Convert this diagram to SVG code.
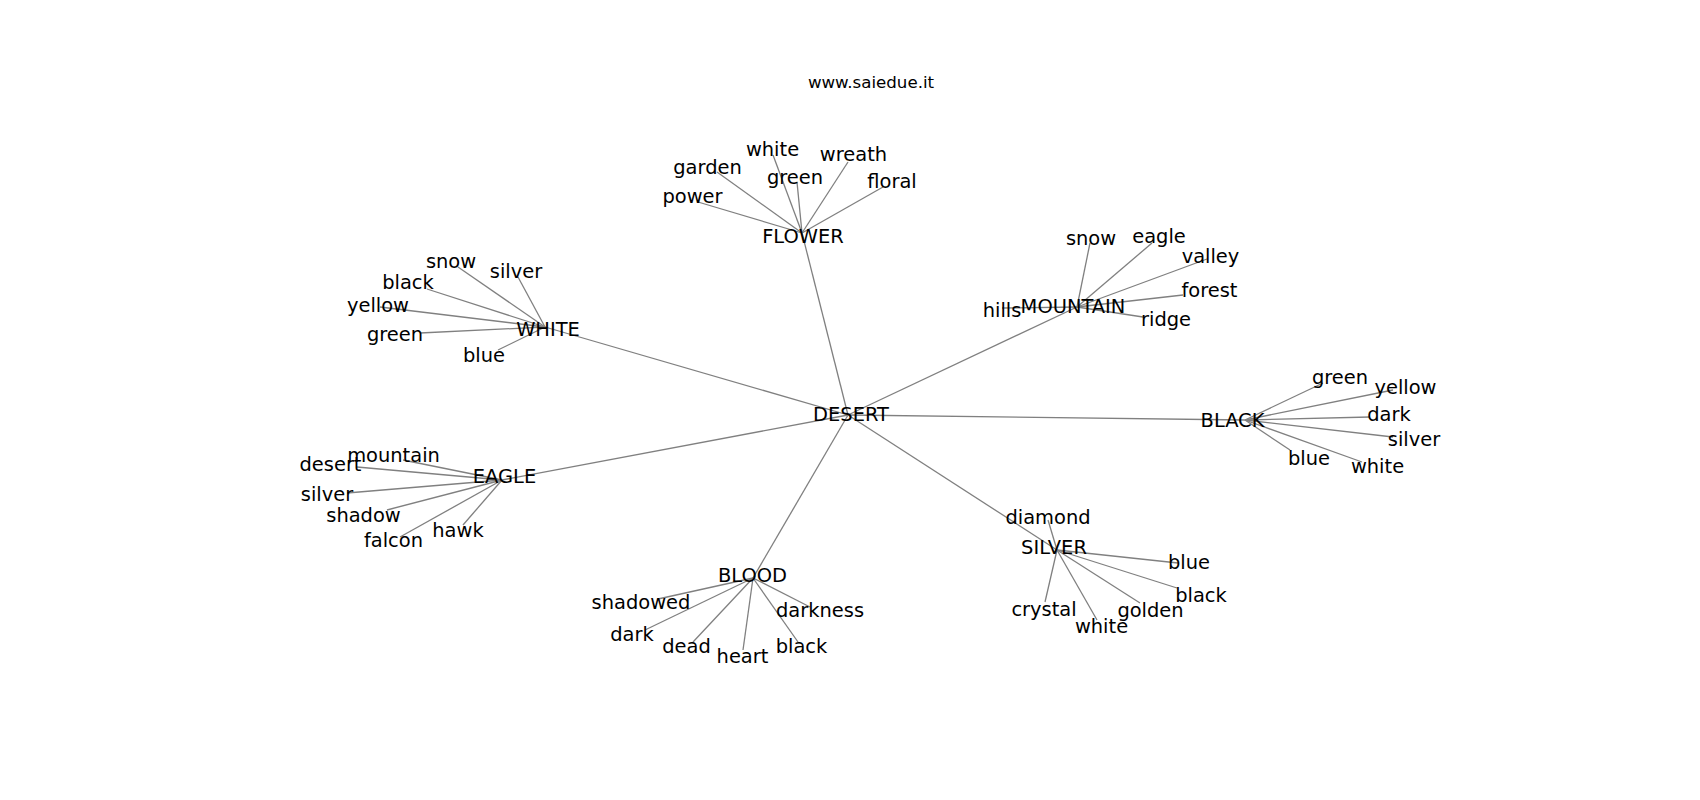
<svg xmlns="http://www.w3.org/2000/svg" width="1700" height="800" viewBox="0 0 1700 800">
<style>
.e{stroke:#808080;stroke-width:1.3;fill:none}
text{font-family:"DejaVu Sans","Liberation Sans",sans-serif;font-size:19.44px;fill:#000;text-anchor:middle}
.t{font-size:16.67px}
</style>
<rect width="1700" height="800" fill="#fff"/>
<text class="t" x="871" y="88">www.saiedue.it</text>
<g id="edges">
<!-- hubs to DESERT -->
<line class="e" x1="848" y1="415" x2="802" y2="233"/>
<line class="e" x1="848" y1="415" x2="545" y2="327"/>
<line class="e" x1="848" y1="415" x2="1077" y2="307"/>
<line class="e" x1="848" y1="415" x2="1245" y2="420"/>
<line class="e" x1="848" y1="415" x2="502" y2="480"/>
<line class="e" x1="848" y1="415" x2="753" y2="578"/>
<line class="e" x1="848" y1="415" x2="1057" y2="550"/>
<!-- FLOWER -->
<line class="e" x1="802" y1="233" x2="773" y2="155"/>
<line class="e" x1="802" y1="233" x2="717" y2="172"/>
<line class="e" x1="802" y1="233" x2="797" y2="182"/>
<line class="e" x1="802" y1="233" x2="848" y2="162"/>
<line class="e" x1="802" y1="233" x2="883" y2="187"/>
<line class="e" x1="802" y1="233" x2="698" y2="202"/>
<!-- WHITE -->
<line class="e" x1="545" y1="327" x2="458" y2="267"/>
<line class="e" x1="545" y1="327" x2="518" y2="277"/>
<line class="e" x1="545" y1="327" x2="427" y2="289"/>
<line class="e" x1="545" y1="327" x2="380" y2="307"/>
<line class="e" x1="545" y1="327" x2="420" y2="333"/>
<line class="e" x1="545" y1="327" x2="498" y2="350"/>
<!-- MOUNTAIN -->
<line class="e" x1="1077" y1="307" x2="1090" y2="243"/>
<line class="e" x1="1077" y1="307" x2="1152" y2="243"/>
<line class="e" x1="1077" y1="307" x2="1207" y2="259"/>
<line class="e" x1="1077" y1="307" x2="1183" y2="295"/>
<line class="e" x1="1077" y1="307" x2="1143" y2="317"/>
<line class="e" x1="1077" y1="307" x2="1002" y2="308"/>
<!-- BLACK -->
<line class="e" x1="1245" y1="420" x2="1323" y2="383"/>
<line class="e" x1="1245" y1="420" x2="1393" y2="390"/>
<line class="e" x1="1245" y1="420" x2="1370" y2="417"/>
<line class="e" x1="1245" y1="420" x2="1393" y2="437"/>
<line class="e" x1="1245" y1="420" x2="1362" y2="462"/>
<line class="e" x1="1245" y1="420" x2="1290" y2="450"/>
<!-- EAGLE -->
<line class="e" x1="502" y1="480" x2="403" y2="460"/>
<line class="e" x1="502" y1="480" x2="357" y2="467"/>
<line class="e" x1="502" y1="480" x2="347" y2="493"/>
<line class="e" x1="502" y1="480" x2="387" y2="510"/>
<line class="e" x1="502" y1="480" x2="400" y2="537"/>
<line class="e" x1="502" y1="480" x2="463" y2="525"/>
<!-- BLOOD -->
<line class="e" x1="753" y1="578" x2="658" y2="599"/>
<line class="e" x1="753" y1="578" x2="645" y2="630"/>
<line class="e" x1="753" y1="578" x2="693" y2="642"/>
<line class="e" x1="753" y1="578" x2="743" y2="650"/>
<line class="e" x1="753" y1="578" x2="798" y2="642"/>
<line class="e" x1="753" y1="578" x2="810" y2="607"/>
<!-- SILVER -->
<line class="e" x1="1057" y1="550" x2="1048" y2="520"/>
<line class="e" x1="1057" y1="550" x2="1045" y2="602"/>
<line class="e" x1="1057" y1="550" x2="1097" y2="620"/>
<line class="e" x1="1057" y1="550" x2="1140" y2="603"/>
<line class="e" x1="1057" y1="550" x2="1178" y2="563"/>
<line class="e" x1="1057" y1="550" x2="1177" y2="588"/>
</g>
<g id="DESERT"><text x="851" y="421">DESERT</text></g>
<g id="FLOWER"><text x="803" y="243">FLOWER</text>
<text x="772.5" y="156">white</text>
<text x="707.5" y="174">garden</text>
<text x="795" y="184">green</text>
<text x="853.5" y="161">wreath</text>
<text x="892" y="188">floral</text>
<text x="692.5" y="203">power</text></g>
<g id="WHITE"><text x="548" y="336">WHITE</text>
<text x="451" y="268">snow</text>
<text x="516" y="278">silver</text>
<text x="408" y="289">black</text>
<text x="378" y="312">yellow</text>
<text x="395" y="341">green</text>
<text x="484" y="362">blue</text></g>
<g id="MOUNTAIN"><text x="1073" y="313">MOUNTAIN</text>
<text x="1091" y="245">snow</text>
<text x="1159" y="243">eagle</text>
<text x="1210.5" y="263">valley</text>
<text x="1209.5" y="297">forest</text>
<text x="1166" y="326">ridge</text>
<text x="1002" y="317">hills</text></g>
<g id="BLACK"><text x="1232.5" y="427">BLACK</text>
<text x="1340" y="384">green</text>
<text x="1405.5" y="394">yellow</text>
<text x="1389" y="421">dark</text>
<text x="1414" y="446">silver</text>
<text x="1377.5" y="473">white</text>
<text x="1309" y="465">blue</text></g>
<g id="EAGLE"><text x="504.5" y="483">EAGLE</text>
<text x="393.5" y="462">mountain</text>
<text x="330.5" y="471">desert</text>
<text x="327" y="501">silver</text>
<text x="363.5" y="522">shadow</text>
<text x="393.5" y="547">falcon</text>
<text x="458" y="537">hawk</text></g>
<g id="BLOOD"><text x="752.5" y="582">BLOOD</text>
<text x="641" y="609">shadowed</text>
<text x="820" y="617">darkness</text>
<text x="632" y="641">dark</text>
<text x="686.5" y="653">dead</text>
<text x="742.5" y="663">heart</text>
<text x="801.5" y="653">black</text></g>
<g id="SILVER"><text x="1054" y="554">SILVER</text>
<text x="1048" y="524">diamond</text>
<text x="1189" y="569">blue</text>
<text x="1201" y="602">black</text>
<text x="1150.5" y="617">golden</text>
<text x="1044" y="616">crystal</text>
<text x="1101.5" y="633">white</text></g>
</svg>
